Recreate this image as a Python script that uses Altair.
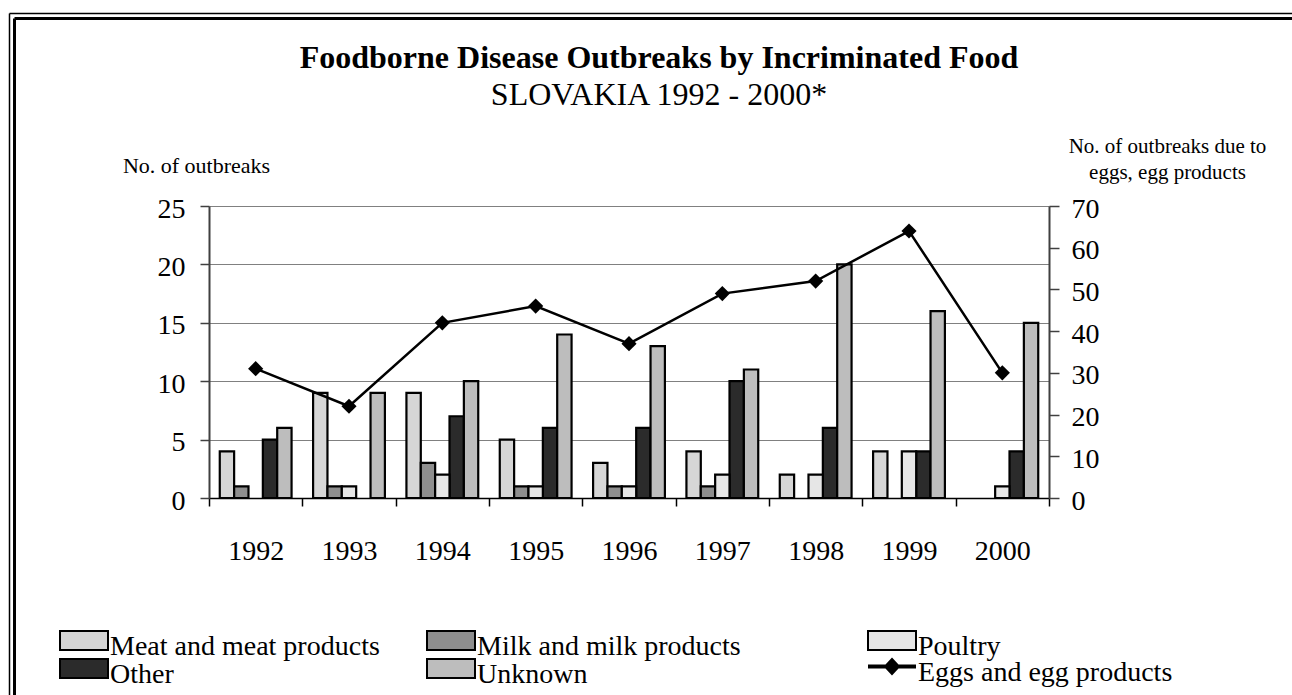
import altair as alt
import pandas as pd

FONT = "Liberation Serif"

# ---- data ----
years = ["1992", "1993", "1994", "1995", "1996", "1997", "1998", "1999", "2000"]
meat = [4, 9, 9, 5, 3, 4, 2, 4, 0]
milk = [1, 1, 3, 1, 1, 1, 0, 0, 0]
poultry = [0, 1, 2, 1, 1, 2, 2, 4, 1]
other = [5, 0, 7, 6, 6, 10, 6, 4, 4]
unknown = [6, 9, 10, 14, 13, 11, 20, 16, 15]
eggs = [31, 22, 42, 46, 37, 49, 52, 64, 30]

series_names = ["Meat and meat products", "Milk and milk products", "Poultry", "Other", "Unknown"]
line_name = "Eggs and egg products"
left_ticks = [0, 5, 10, 15, 20, 25]
right_ticks = [0, 10, 20, 30, 40, 50, 60, 70]

title_text = "Foodborne Disease Outbreaks by Incriminated Food"
subtitle_text = "SLOVAKIA 1992 - 2000*"

# ---- tables ----
rows = []
for i, yr in enumerate(years):
    for s, arr in zip(series_names, [meat, milk, poultry, other, unknown]):
        rows.append({"year": yr, "series": s, "value": arr[i]})
bars_df = pd.DataFrame(rows)
line_df = pd.DataFrame({"year": years, "eggs": eggs, "lab": [line_name] * len(years)})

groupA = ["Meat and meat products", "Milk and milk products", "Other", "Unknown"]
colorsA = ["#d6d6d6", "#8e8e8e", "#2b2b2b", "#bdbdbd"]
colorPoultry = ["#e6e6e6"]

RECT = "M-2.4,-1.6H2.4V0.3H-2.4Z"
EGGSYM = "M-2.3,-0.75H2.3V-0.55H-2.3Z M0,-1.4L0.7,-0.65L0,0.1L-0.7,-0.65Z"

legend_common = dict(
    title=None, orient="none", labelFont=FONT, labelFontSize=28, labelColor="black",
    labelLimit=700, symbolSize=400, symbolStrokeColor="black", symbolStrokeWidth=2,
    labelOffset=12, padding=0, symbolOpacity=1,
)

x_enc = alt.X(
    "year:N", sort=years, title=None,
    scale=alt.Scale(paddingInner=0, paddingOuter=0),
    axis=alt.Axis(labelAngle=0, labelFont=FONT, labelFontSize=28, labelColor="black",
                  tickBand="extent", tickSize=8, tickColor="black", tickWidth=1.5,
                  domainColor="black", domainWidth=1.5, labelPadding=31, grid=False),
)
xoff_enc = alt.XOffset(
    "series:N", sort=series_names,
    scale=alt.Scale(domain=series_names, paddingOuter=0.75, paddingInner=0),
)
y_left = alt.Y(
    "value:Q", stack=None,
    scale=alt.Scale(domain=[0, 25], nice=False),
    axis=alt.Axis(values=left_ticks, title="No. of outbreaks", titleAngle=0,
                  titleX=-13, titleY=-41, titleAlign="center", titleBaseline="middle",
                  titleFont=FONT, titleFontSize=22, titleFontWeight="normal", titleColor="black",
                  labelFont=FONT, labelFontSize=28, labelColor="black", labelOffset=3,
                  tickSize=9, tickColor="#404040", tickWidth=1.5, labelPadding=15,
                  domainColor="#404040", domainWidth=2,
                  grid=True, gridColor="#808080", gridWidth=1),
)
y_right = alt.Y(
    "eggs:Q",
    scale=alt.Scale(domain=[0, 70], nice=False),
    axis=alt.Axis(orient="right", values=right_ticks,
                  title=["No. of outbreaks due to", "eggs, egg products"], titleAngle=0,
                  titleX=118, titleY=-54, titleAlign="center", titleBaseline="alphabetic",
                  titleLineHeight=26.6,
                  titleFont=FONT, titleFontSize=21, titleFontWeight="normal", titleColor="black",
                  labelFont=FONT, labelFontSize=28, labelColor="black", labelOffset=3,
                  tickSize=10, tickColor="#404040", tickWidth=1.5, labelPadding=12,
                  domainColor="#404040", domainWidth=2, grid=False),
)

barsA = alt.Chart(bars_df).transform_filter(
    alt.FieldOneOfPredicate(field="series", oneOf=groupA)
).transform_filter("datum.value > 0").mark_bar(stroke="black", strokeWidth=2.2).encode(
    x=x_enc, xOffset=xoff_enc, y=y_left,
    fill=alt.Fill("series:N", sort=groupA,
                  scale=alt.Scale(domain=groupA, range=colorsA),
                  legend=alt.Legend(columns=2, direction="horizontal", columnPadding=43,
                                    rowPadding=-9, symbolType=RECT,
                                    legendX=-139, legendY=427, **legend_common)),
)

barsB = alt.Chart(bars_df).transform_filter(
    alt.FieldEqualPredicate(field="series", equal="Poultry")
).transform_filter("datum.value > 0").mark_bar(stroke="black", strokeWidth=2.2).encode(
    x=x_enc, xOffset=xoff_enc, y=y_left,
    fill=alt.Fill("series:N",
                  scale=alt.Scale(domain=["Poultry"], range=colorPoultry),
                  legend=alt.Legend(symbolType=RECT, legendX=669, legendY=427, **legend_common)),
)

bars = alt.layer(barsA, barsB).resolve_scale(fill="independent")

line = alt.Chart(line_df).mark_line(color="black", strokeWidth=2.5).encode(x=x_enc, y=y_right)
points = alt.Chart(line_df).mark_point(shape="diamond", filled=True, size=230, opacity=1).encode(
    x=x_enc, y=y_right,
    fill=alt.Fill("lab:N", scale=alt.Scale(domain=[line_name], range=["black"]),
                  legend=alt.Legend(symbolType=EGGSYM, legendX=669, legendY=453, **legend_common)),
)
line_grp = alt.layer(line, points)

one = pd.DataFrame({"k": [0]})
frame_outer = alt.Chart(one).mark_rule(color="black", strokeWidth=1.5)
frame_inner = alt.Chart(one).mark_rule(color="black", strokeWidth=3)
f1 = frame_outer.encode(x=alt.value(-199.5), y=alt.value(-192.5), y2=alt.value(489))
f2 = frame_outer.encode(x=alt.value(-199.5), x2=alt.value(1083), y=alt.value(-192.5))
f3 = frame_inner.encode(x=alt.value(-194.5), y=alt.value(-187.5), y2=alt.value(489))
f4 = frame_inner.encode(x=alt.value(-194.5), x2=alt.value(1083), y=alt.value(-187.5))

t1 = alt.Chart(pd.DataFrame({"t": [title_text]})).mark_text(
    font=FONT, fontSize=32, fontWeight="bold", align="center", baseline="middle", color="black"
).encode(x=alt.value(450), y=alt.value(-148), text="t:N")
t2 = alt.Chart(pd.DataFrame({"t": [subtitle_text]})).mark_text(
    font=FONT, fontSize=32, align="center", baseline="middle", color="black"
).encode(x=alt.value(450), y=alt.value(-111), text="t:N")

chart = alt.layer(bars, line_grp, f1, f2, f3, f4, t1, t2).resolve_scale(
    y="independent", fill="independent"
).properties(
    width=840, height=292,
    padding={"left": 209, "top": 206, "right": 243, "bottom": 197},
    autosize=alt.AutoSizeParams(type="none"),
).configure_view(stroke=None).configure(background="white")

chart.save("out.html", embed_options={"renderer": "svg", "actions": False})
